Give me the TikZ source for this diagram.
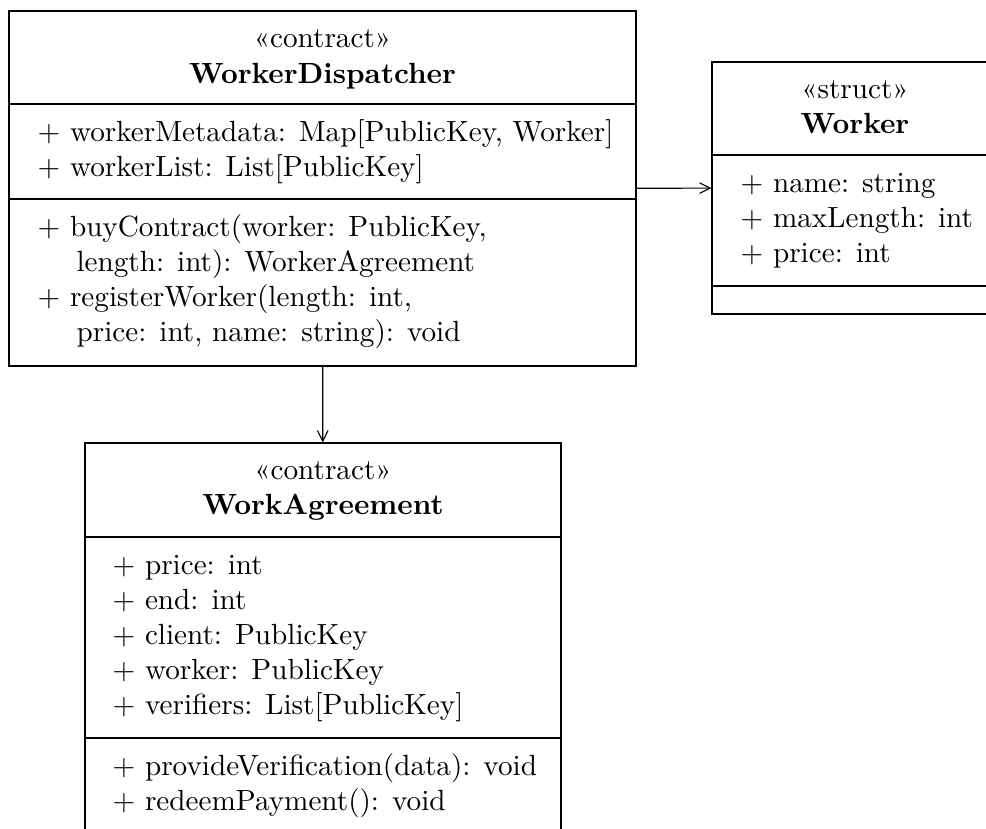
\documentclass[tikz,border=0pt]{standalone}
\usepackage{fontspec}
\usetikzlibrary{fit,arrows.meta}
\begin{document}
\begin{tikzpicture}[x=0.3425pt,y=-0.3425pt,
  box/.style={draw, inner sep=0pt, line width=0.4pt},
  hdr/.style={anchor=base, inner sep=0pt},
  ttl/.style={anchor=base, inner sep=0pt, font=\bfseries},
  mem/.style={anchor=base west, inner sep=0pt},
  sep/.style={line width=0.4pt},
  conn/.style={-{Straight Barb[length=3.6pt,width=3.6pt]}, line width=0.4pt}]
\useasboundingbox (0,0) rectangle (986,828);
\clip (0,0) rectangle (986,828);

% WorkerDispatcher
\node[box, fit={(9,11) (636,366)}] (wd) {};
\node[hdr] (wdS) at (322.5,47) {«contract»};
\node[ttl] (wdT) at (322.5,83) {WorkerDispatcher};
\draw[sep] (9,104) -- (636,104);
\draw[sep] (9,199) -- (636,199);
\node[mem] (wdA1) at (37,141) {+ workerMetadata: Map[PublicKey, Worker]};
\node[mem] (wdA2) at (37,176) {+ workerList: List[PublicKey]};
\node[mem] (wdM1) at (37,236.5) {+ buyContract(worker: PublicKey,};
\node[mem] (wdM2) at (76,271.5) {length: int): WorkerAgreement};
\node[mem] (wdM3) at (37,306.5) {+ registerWorker(length: int,};
\node[mem] (wdM4) at (76,341.5) {price: int, name: string): void};

% Worker
\node[box, fit={(712,62) (998,314)}] (w) {};
\node[hdr] (wS) at (855,98) {«struct»};
\node[ttl] (wT) at (855,133) {Worker};
\draw[sep] (712,155) -- (998,155);
\draw[sep] (712,286) -- (998,286);
\node[mem] (wA1) at (740,192) {+ name: string};
\node[mem] (wA2) at (740,227) {+ maxLength: int};
\node[mem] (wA3) at (740,262) {+ price: int};

% WorkAgreement
\node[box, fit={(85,443) (561,846)}] (wa) {};
\node[hdr] (waS) at (323,479) {«contract»};
\node[ttl] (waT) at (323,514) {WorkAgreement};
\draw[sep] (85,537) -- (561,537);
\draw[sep] (85,738) -- (561,738);
\node[mem] (waA1) at (112,574) {+ price: int};
\node[mem] (waA2) at (112,609) {+ end: int};
\node[mem] (waA3) at (112,644) {+ client: PublicKey};
\node[mem] (waA4) at (112,679) {+ worker: PublicKey};
\node[mem] (waA5) at (112,714) {+ verifiers: List[PublicKey]};
\node[mem] (waM1) at (112,775) {+ provideVerification(data): void};
\node[mem] (waM2) at (112,810) {+ redeemPayment(): void};

% connectors
\draw[conn] (wd) -- (w);
\draw[conn] (wd) -- (wa);
\end{tikzpicture}
\end{document}
